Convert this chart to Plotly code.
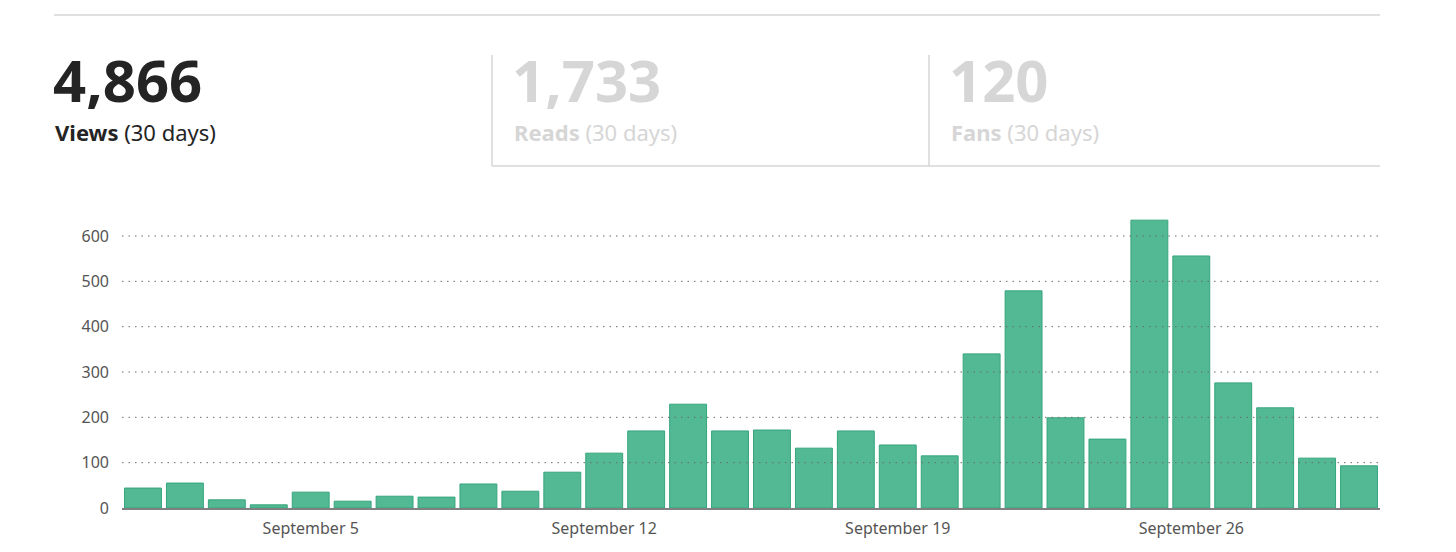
import plotly.graph_objects as go

# daily views, September 1-30
days = [f"September {d}" for d in range(1, 31)]
views = [44, 55, 18, 7, 35, 15, 26, 24, 53, 37,
         79, 121, 170, 229, 170, 172, 132, 170, 139, 115,
         340, 479, 199, 152, 635, 556, 276, 221, 110, 93]

tick_days = ["September 5", "September 12", "September 19", "September 26"]
y_ticks = [0, 100, 200, 300, 400, 500, 600]

stat_values = ["4,866", "1,733", "120"]
stat_names = ["Views", "Reads", "Fans"]

# the page body has an 8px margin, so page pixels are shifted by OFF
OFF = 8
W, H = 1456 - OFF, 552 - OFF
L, R, T, B = 122 - OFF, 1380 - OFF, 210 - OFF, 508 - OFF


def px(x):
    return (x - OFF - L) / (R - L)


def py(y):
    return (B - (y - OFF)) / (B - T)


fig = go.Figure()
fig.add_trace(go.Bar(x=days, y=views,
                     marker=dict(color="#52b994", line=dict(color="#35a57c", width=1)),
                     hoverinfo="x+y"))

# dotted gridlines drawn on top of the bars
for v in y_ticks[1:]:
    fig.add_hline(y=v, line=dict(color="#6b6b6b", width=1, dash="1.5px,5px"), layer="above")

# header: rule, stat boxes and numbers
line_grey = "#d6d6d6"
shapes = [
    dict(x0=54, x1=1380, y0=15, y1=15),
    dict(x0=492, x1=492, y0=55, y1=166),
    dict(x0=929, x1=929, y0=55, y1=166),
    dict(x0=492, x1=1380, y0=166, y1=166),
]
for s in shapes:
    fig.add_shape(type="line", xref="paper", yref="paper",
                  x0=px(s["x0"]), x1=px(s["x1"]), y0=py(s["y0"]), y1=py(s["y1"]),
                  line=dict(color=line_grey, width=1.5))

stat_x = [54, 513, 950]
for i, (val, name) in enumerate(zip(stat_values, stat_names)):
    col = "#242424" if i == 0 else "#d6d6d6"
    fig.add_annotation(x=px(stat_x[i] - 3), y=py(121), xref="paper", yref="paper",
                       xanchor="left", yanchor="bottom", showarrow=False,
                       text=f"<b>{val}</b>",
                       font=dict(family="Noto Sans", size=58, color=col))
    fig.add_annotation(x=px(stat_x[i] - 1), y=py(115), xref="paper", yref="paper",
                       xanchor="left", yanchor="top", showarrow=False,
                       text=f"<b>{name}</b> (30 days)",
                       font=dict(family="Noto Sans", size=22, color=col))

fig.update_layout(
    width=W, height=H,
    margin=dict(l=L, r=W - R, t=T, b=H - B),
    plot_bgcolor="white", paper_bgcolor="white",
    bargap=0.12, showlegend=False,
    font=dict(family="Noto Sans", color="#555555", size=16),
    xaxis=dict(type="category", tickmode="array", tickvals=tick_days, ticktext=tick_days,
               showgrid=False, showline=True, linecolor="#808080", linewidth=2,
               ticks="", ticklabelstandoff=5,
               tickfont=dict(size=16, color="#555555"), fixedrange=True),
    yaxis=dict(range=[0, (B - T) / 0.4533], tickvals=y_ticks, showgrid=False,
               zeroline=False, showline=False, ticks="", ticklabelstandoff=12,
               tickfont=dict(size=16, color="#555555"), fixedrange=True),
)

fig.write_html("out.html")
